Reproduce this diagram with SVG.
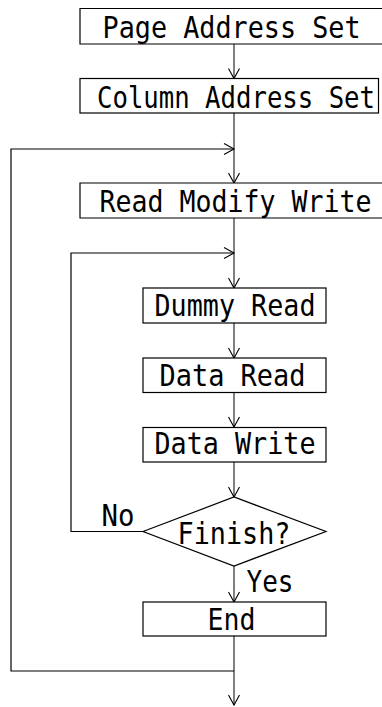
<svg xmlns="http://www.w3.org/2000/svg" width="382" height="707" viewBox="0 0 382 707">
<defs>
<style>
.box{fill:#fff;stroke:#000;stroke-width:1.2}
.t{font-family:"DejaVu Sans Mono","Liberation Mono",monospace;font-size:30px;fill:#000;text-anchor:middle}
.lbl{font-family:"DejaVu Sans Mono","Liberation Mono",monospace;font-size:30px;fill:#000}
.main{fill:none;stroke:#808080;stroke-width:2}
.loop{fill:none;stroke:#000;stroke-width:1.2}
</style>
<marker id="ah" markerWidth="14" markerHeight="14" viewBox="-12 -7 14 14" refX="0" refY="0" orient="auto" markerUnits="userSpaceOnUse">
<path d="M-10,-5.5 L0,0 L-10,5.5" fill="none" stroke="#000" stroke-width="1.1"/>
</marker>
</defs>
<rect width="382" height="707" fill="#fff"/>
<g id="connectors">
<line class="main" x1="234" y1="44" x2="234" y2="78.5" marker-end="url(#ah)"/>
<line class="main" x1="234" y1="113" x2="234" y2="183" marker-end="url(#ah)"/>
<line class="main" x1="234" y1="218" x2="234" y2="288" marker-end="url(#ah)"/>
<line class="main" x1="234" y1="323" x2="234" y2="358" marker-end="url(#ah)"/>
<line class="main" x1="234" y1="392" x2="234" y2="427" marker-end="url(#ah)"/>
<line class="main" x1="234" y1="462" x2="234" y2="497" marker-end="url(#ah)"/>
<line class="main" x1="234" y1="566" x2="234" y2="602" marker-end="url(#ah)"/>
<line class="main" x1="234" y1="636" x2="234" y2="705" marker-end="url(#ah)"/>
<polyline class="loop" points="234,671 11,671 11,149 234,149" marker-end="url(#ah)"/>
<polyline class="loop" points="143,531.5 71,531.5 71,253 234,253" marker-end="url(#ah)"/>
</g>
<g id="page-address-set">
<path class="box" d="M382,8.5 H80 V44 H382"/>
<text class="t" x="231.5" y="37.5" textLength="258" lengthAdjust="spacingAndGlyphs">Page Address Set</text>
</g>
<g id="column-address-set">
<rect class="box" x="80" y="78.5" width="298.5" height="34.5"/>
<text class="t" x="236" y="107.5" textLength="278" lengthAdjust="spacingAndGlyphs">Column Address Set</text>
</g>
<g id="read-modify-write">
<path class="box" d="M382,183 H80 V218 H382"/>
<text class="t" x="235.5" y="211.5" textLength="272" lengthAdjust="spacingAndGlyphs">Read Modify Write</text>
</g>
<g id="dummy-read">
<rect class="box" x="143" y="288" width="183" height="35"/>
<text class="t" x="235" y="315.5" textLength="161" lengthAdjust="spacingAndGlyphs">Dummy Read</text>
</g>
<g id="data-read">
<rect class="box" x="143" y="358" width="183" height="34.5"/>
<text class="t" x="232.5" y="385.5" textLength="146" lengthAdjust="spacingAndGlyphs">Data Read</text>
</g>
<g id="data-write">
<rect class="box" x="143" y="427.5" width="183" height="34.5"/>
<text class="t" x="235" y="454" textLength="161" lengthAdjust="spacingAndGlyphs">Data Write</text>
</g>
<g id="finish">
<polygon class="box" points="143,531.5 234,497 326,531.5 234,566"/>
<text class="t" x="234" y="544" textLength="113" lengthAdjust="spacingAndGlyphs">Finish?</text>
<text class="lbl" x="101.5" y="525.5" textLength="33" lengthAdjust="spacingAndGlyphs">No</text>
<text class="lbl" x="246.5" y="592" textLength="47" lengthAdjust="spacingAndGlyphs">Yes</text>
</g>
<g id="end">
<rect class="box" x="143" y="602" width="183" height="34"/>
<text class="t" x="231.5" y="630" textLength="48" lengthAdjust="spacingAndGlyphs">End</text>
</g>
</svg>
